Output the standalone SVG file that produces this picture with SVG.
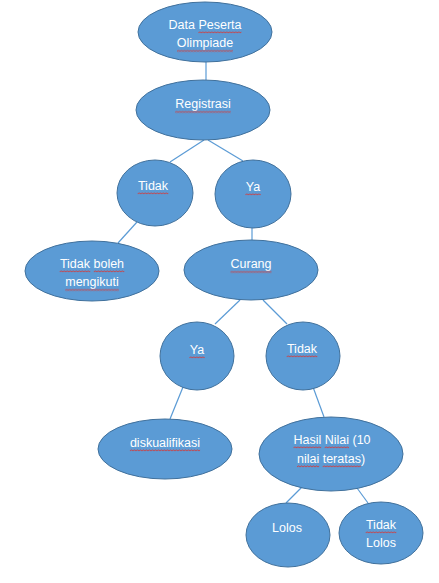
<svg xmlns="http://www.w3.org/2000/svg" width="439" height="583" viewBox="0 0 439 583">
<style>
.n{fill:#5B9BD5;stroke:#41719C;stroke-width:1}
.t{font-family:"Liberation Sans",Arial,sans-serif;font-size:12.5px;fill:#fff;text-anchor:middle}
.c line{stroke:#5B9BD5;stroke-width:1.2}
.w{fill:url(#wv)}
</style>
<defs>
<pattern id="wv" width="3" height="3" patternUnits="userSpaceOnUse">
<path d="M0,2.3 L1.5,0.7 L3,2.3" fill="none" stroke="#E0302A" stroke-width="0.9"/>
</pattern>
</defs>
<rect width="439" height="583" fill="#fff"/>
<g class="c" id="connectors">
<line x1="206" y1="62" x2="206" y2="80"/>
<line x1="204" y1="140" x2="170" y2="162"/>
<line x1="208" y1="140" x2="243" y2="161"/>
<line x1="137" y1="222" x2="118" y2="243"/>
<line x1="252" y1="228" x2="252" y2="240"/>
<line x1="240" y1="300" x2="215" y2="324"/>
<line x1="263" y1="300" x2="287" y2="324"/>
<line x1="183" y1="387" x2="170" y2="419"/>
<line x1="313" y1="387" x2="324" y2="417"/>
<line x1="302" y1="487" x2="286" y2="503"/>
<line x1="357" y1="488" x2="368" y2="503"/>
</g>
<g id="n1"><ellipse class="n" cx="205" cy="32" rx="67" ry="30"/><text class="t" x="205" y="29">Data Peserta</text><text class="t" x="205" y="47">Olimpiade</text>
<rect class="w" transform="translate(198.4,31)" width="43" height="3"/><rect class="w" transform="translate(177,49.5)" width="56" height="3"/></g>
<g id="n2"><ellipse class="n" cx="203" cy="110" rx="67" ry="30"/><text class="t" x="203" y="108">Registrasi</text>
<rect class="w" transform="translate(175.2,110.5)" width="55.6" height="3"/></g>
<g id="n3"><ellipse class="n" cx="155" cy="193" rx="38" ry="33"/><text class="t" x="153" y="190">Tidak</text>
<rect class="w" transform="translate(137.7,192)" width="30.6" height="3"/></g>
<g id="n4"><ellipse class="n" cx="253" cy="194" rx="38" ry="34"/><text class="t" x="253" y="191">Ya</text>
<rect class="w" transform="translate(245.4,193)" width="15.3" height="3"/></g>
<g id="n5"><ellipse class="n" cx="92" cy="271" rx="67" ry="30"/><text class="t" x="92" y="268">Tidak boleh</text><text class="t" x="92" y="286">mengikuti</text>
<rect class="w" transform="translate(59.7,270)" width="30.6" height="3"/><rect class="w" transform="translate(93.8,270)" width="30.5" height="3"/><rect class="w" transform="translate(65.3,288.5)" width="53.5" height="3"/></g>
<g id="n6"><ellipse class="n" cx="251" cy="270" rx="67" ry="30"/><text class="t" x="251" y="268">Curang</text>
<rect class="w" transform="translate(230.5,270.5)" width="41" height="3"/></g>
<g id="n7"><ellipse class="n" cx="197" cy="356" rx="37" ry="34"/><text class="t" x="197" y="354">Ya</text>
<rect class="w" transform="translate(189.4,356)" width="15.3" height="3"/></g>
<g id="n8"><ellipse class="n" cx="303" cy="356" rx="37" ry="34"/><text class="t" x="302" y="353">Tidak</text>
<rect class="w" transform="translate(286.7,355)" width="30.6" height="3"/></g>
<g id="n9"><ellipse class="n" cx="165" cy="449" rx="67" ry="30"/><text class="t" x="165" y="447">diskualifikasi</text>
<rect class="w" transform="translate(129.9,449)" width="70.2" height="3"/></g>
<g id="n10"><ellipse class="n" cx="331" cy="454" rx="72" ry="37"/><text class="t" x="332" y="444">Hasil Nilai (10</text><text class="t" x="331" y="463">nilai teratas)</text>
<rect class="w" transform="translate(293.5,446)" width="27.7" height="3"/><rect class="w" transform="translate(324.7,446)" width="24.3" height="3"/><rect class="w" transform="translate(297,465)" width="22.2" height="3"/><rect class="w" transform="translate(322.7,465)" width="38.2" height="3"/></g>
<g id="n11"><ellipse class="n" cx="288" cy="535" rx="42" ry="32"/><text class="t" x="287" y="532">Lolos</text></g>
<g id="n12"><ellipse class="n" cx="381" cy="533" rx="42" ry="31"/><text class="t" x="381" y="529">Tidak</text><text class="t" x="381" y="547">Lolos</text>
<rect class="w" transform="translate(365.7,531)" width="30.6" height="3"/></g>
</svg>
